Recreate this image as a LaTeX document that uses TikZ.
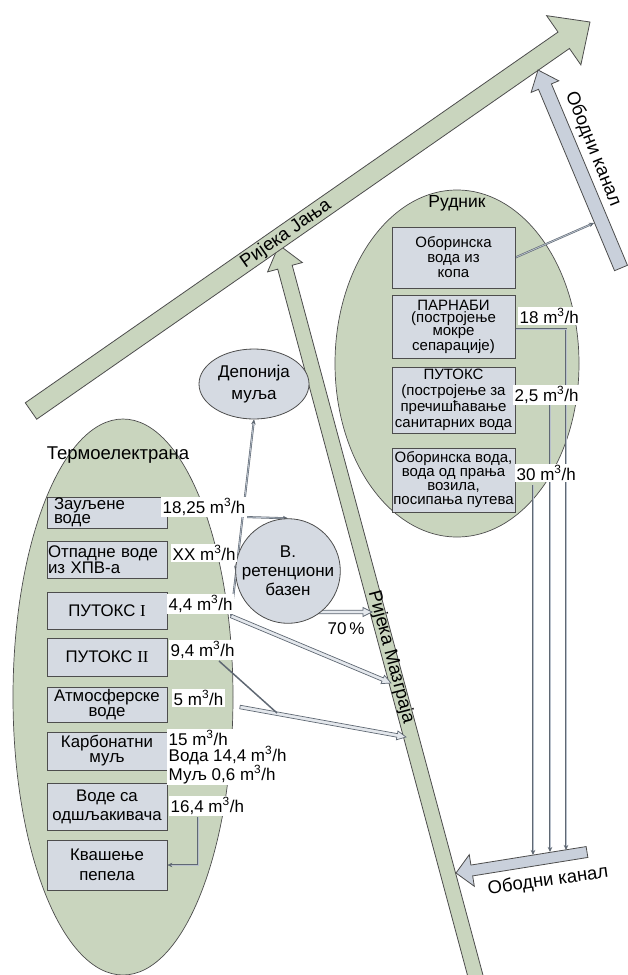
\documentclass[tikz,border=0pt]{standalone}
\usepackage{fontspec}
\setmainfont{Liberation Sans}
\newfontfamily\romanI{Liberation Serif}
\usetikzlibrary{calc,arrows.meta,shapes.geometric}
\pgfdeclarelayer{back}
\pgfdeclarelayer{pipes}
\pgfsetlayers{back,pipes,main}
\definecolor{sage}{HTML}{C9D5BE}
\definecolor{boxfill}{HTML}{D5DAE2}
\definecolor{canal}{HTML}{C9D0DB}
\definecolor{edge}{HTML}{4D4D4D}
\definecolor{pipec}{HTML}{5F6873}
\definecolor{pipefill}{HTML}{B8C0CB}
\definecolor{hollow}{HTML}{E4E8ED}
% #1 name, #2 tail, #3 tip, #4 half shaft, #5 half head, #6 head length, #7 style
\newcommand\blockarrow[7]{%
  \coordinate (#1h) at ($(#3)!#6!(#2)$);
  \draw[#7] ($(#2)!#4!90:(#3)$) -- ($(#1h)!#4!-90:(#2)$) -- ($(#1h)!#5!-90:(#2)$)
    -- (#3) -- ($(#1h)!#5!90:(#2)$) -- ($(#1h)!#4!90:(#2)$) -- ($(#2)!#4!-90:(#3)$) -- cycle;
}
\begin{document}
\begin{tikzpicture}[x=1pt,y=-1pt,
  font=\fontsize{17pt}{15pt}\selectfont,
  lbox/.style={draw=edge, fill=boxfill, line width=0.8pt, minimum width=120pt, inner sep=1pt, align=center, font=\fontsize{16.8pt}{15pt}\selectfont},
  rbox/.style={draw=edge, fill=boxfill, line width=0.8pt, minimum width=123pt, inner sep=1pt, align=center, font=\fontsize{15pt}{15pt}\selectfont},
  lab/.style={fill=white, inner xsep=1.5pt, inner ysep=1.5pt, anchor=west},
  river/.style={font=\fontsize{18.5pt}{18pt}\selectfont},
  pipe/.style={draw=pipec, double=pipefill, double distance=0.8pt, line width=0.6pt},
  ptip/.style={-{Stealth[length=5pt,width=4.5pt]}},
  big/.style={draw=edge, line width=0.8pt, fill=sage},
  canalarrow/.style={draw=edge, line width=0.8pt, fill=canal},
  hollowarrow/.style={draw=pipec, line width=0.7pt, fill=hollow}]
\useasboundingbox (0,0) rectangle (627,975);

\begin{pgfonlayer}{back}
% areas
\node[ellipse, draw=edge, fill=sage, line width=0.7pt, minimum width=220pt, minimum height=556pt, inner sep=0pt] (termo) at (123,697) {};
\node[ellipse, draw=edge, fill=sage, line width=0.7pt, minimum width=244pt, minimum height=347pt, inner sep=0pt] (rudnik) at (457,363.5) {};
% rivers and canals
\coordinate (mazT) at (476,978); \coordinate (mazH) at (279,245);
\blockarrow{maz}{mazT}{mazH}{7.5pt}{18pt}{23pt}{big}
\coordinate (janT) at (31,411); \coordinate (janH) at (590,22);
\blockarrow{jan}{janT}{janH}{10pt}{30pt}{32pt}{big}
\coordinate (canT) at (621,268); \coordinate (canH) at (538,70);
\blockarrow{can}{canT}{canH}{7pt}{15pt}{18pt}{canalarrow}
\coordinate (canbT) at (587,852); \coordinate (canbH) at (456,873);
\blockarrow{canb}{canbT}{canbH}{5.5pt}{16pt}{16pt}{canalarrow}
\end{pgfonlayer}

\node[river, rotate=35] (janlab) at (286,234) {Ријека Јања};
\node[river, rotate=-75] (mazlab) at (391,657) {Ријека Мазграја};
\node[river, rotate=-68] (canlab) at (593,149) {Ободни канал};
\node[river, rotate=8] (canblab) at (548,881) {Ободни канал};

% titles
\node[font=\fontsize{18.5pt}{18pt}\selectfont] (termotxt) at (118,455) {Термоелектрана};
\node[font=\fontsize{17.5pt}{18pt}\selectfont] (rudtxt) at (457,203) {Рудник};

% power plant boxes
\node[lbox, minimum height=31pt, text width=106pt, inner xsep=7pt, align=left, font=\fontsize{16.8pt}{14pt}\selectfont] (b1) at (107,512.5) {Зауљене\\воде};
\node[lbox, minimum height=37pt, text width=118pt, align=left, font=\fontsize{16.8pt}{16pt}\selectfont] (b2) at (107,559.5) {Отпадне воде\\из ХПВ-а};
\node[lbox, minimum height=37pt] (b3) at (107,610.5) {ПУТОКС {\romanI I}};
\node[lbox, minimum height=38pt] (b4) at (107,657) {ПУТОКС {\romanI II}};
\node[lbox, minimum height=35pt] (b5) at (107,704.5) {Атмосферске\\воде};
\node[lbox, minimum height=38pt] (b6) at (107,751) {Карбонатни\\муљ};
\node[lbox, minimum height=47pt, font=\fontsize{16.8pt}{19pt}\selectfont] (b7) at (107,806.5) {Воде са\\одшљакивача};
\node[lbox, minimum height=50pt, font=\fontsize{16.8pt}{20pt}\selectfont] (b8) at (107,865) {Квашење\\пепела};

% mine boxes
\node[rbox, minimum height=61pt] (r1) at (453.5,257.5) {Оборинска\\вода из\\копа};
\node[rbox, minimum height=63pt, font=\fontsize{15pt}{12.5pt}\selectfont] (r2) at (453.5,326.5) {ПАРНАБИ\\(постројење\\мокре\\сепарације)};
\node[rbox, minimum height=66pt, font=\fontsize{15pt}{16pt}\selectfont] (r3) at (453.5,400) {ПУТОКС\\(постројење за\\пречишћавање\\санитарних вода};
\node[rbox, minimum height=64pt, font=\fontsize{15pt}{14pt}\selectfont] (r4) at (453.5,480) {Оборинска вода,\\вода од прања\\возила,\\посипања путева};

% other objects
\node[ellipse, draw=edge, fill=boxfill, line width=0.8pt, minimum width=110pt, minimum height=70pt, inner sep=0pt, align=center, font=\fontsize{17pt}{22pt}\selectfont] (dep) at (254,384) {Депонија\\муља};
\node[circle, draw=edge, fill=boxfill, line width=0.8pt, minimum size=96pt, inner sep=0pt, align=center, font=\fontsize{17pt}{19pt}\selectfont] (basin) at (288,571) {В.\\ретенциони\\базен};

% flow labels
\node[lab] (l1) at (161,507) {18,25 m\textsuperscript{3}/h};
\node[lab] (l2) at (171,553) {XX m\textsuperscript{3}/h};
\node[lab] (l3) at (167,604) {4,4 m\textsuperscript{3}/h};
\node[lab] (l4) at (169,650) {9,4 m\textsuperscript{3}/h};
\node[lab] (l5) at (172,698) {5 m\textsuperscript{3}/h};
\node[lab, align=left, font=\fontsize{17pt}{16pt}\selectfont] (l6) at (167,757) {15 m\textsuperscript{3}/h\\Вода 14,4 m\textsuperscript{3}/h\\Муљ 0,6 m\textsuperscript{3}/h};
\node[lab] (l7) at (169,806) {16,4 m\textsuperscript{3}/h};
\node[lab] (q1) at (518,316) {18 m\textsuperscript{3}/h};
\node[lab] (q2) at (513,395) {2,5 m\textsuperscript{3}/h};
\node[lab] (q3) at (515,473) {30 m\textsuperscript{3}/h};
\node (p70) at (346,629) {70\,\%};

\begin{pgfonlayer}{pipes}
% connectors, power plant
\coordinate (v44) at (231,616);
\draw[pipe,ptip] (v44) -- (dep.south);
\draw[pipe,ptip] (l1.south east) -- (basin.north);
\draw[pipe,ptip] (l2.south east) -- (basin.west);
\coordinate (m44) at (391,683);
\blockarrow{ha}{v44}{m44}{1.8pt}{4.5pt}{9pt}{hollowarrow}
\coordinate (s5) at (240,707); \coordinate (m5) at (406,737);
\blockarrow{hb}{s5}{m5}{1.8pt}{4.5pt}{9pt}{hollowarrow}
\coordinate (s70) at (315,612); \coordinate (m70) at (372,612);
\blockarrow{hc}{s70}{m70}{1.8pt}{4.5pt}{9pt}{hollowarrow}
\coordinate (s94) at (219,661); \coordinate (e94) at (277,713);
\draw[draw=pipec, line width=1.5pt] (s94) -- (e94);
\coordinate (s164) at (198,817);
\draw[pipe,ptip] (s164) |- (b8.east);
% connectors, mine
\coordinate (cTop) at (594,223);
\draw[pipe,ptip] (r1.east) -- (cTop);
\coordinate (s18) at ($(r2.east)+(0,2.5)$);
\coordinate (e18) at (566,850);
\draw[pipe,ptip] (s18) -| (e18);
\coordinate (s25) at (550,405); \coordinate (e25) at (550,852);
\draw[pipe,ptip] (s25) -- (e25);
\coordinate (s30) at (533,485); \coordinate (e30) at (533,855);
\draw[pipe,ptip] (s30) -- (e30);
\end{pgfonlayer}
\end{tikzpicture}
\end{document}
